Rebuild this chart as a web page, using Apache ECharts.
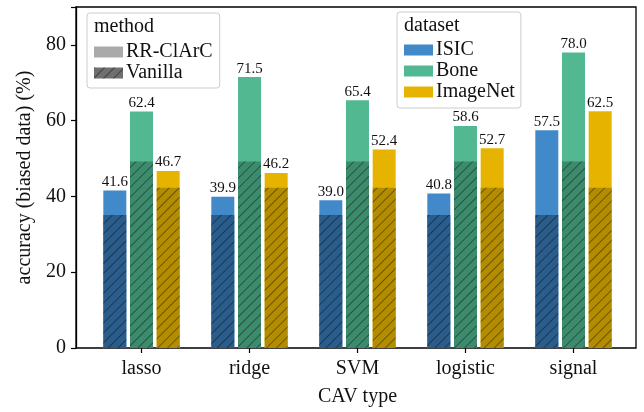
<!DOCTYPE html>
<html><head><meta charset="utf-8">
<script src="https://cdn.jsdelivr.net/npm/echarts@6/dist/echarts.min.js"></script>
<style>html,body{margin:0;padding:0;background:#fff}#c{width:644px;height:412px}</style>
</head><body><div id="c"></div>
<script>
const categories = ['lasso', 'ridge', 'SVM', 'logistic', 'signal'];
const datasets = ['ISIC', 'Bone', 'ImageNet'];
const methods = ['RR-ClArC', 'Vanilla'];
const rrIsic = [41.6, 39.9, 39.0, 40.8, 57.5];
const rrBone = [62.4, 71.5, 65.4, 58.6, 78.0];
const rrImageNet = [46.7, 46.2, 52.4, 52.7, 62.5];
const vanIsic = [35.1, 35.1, 35.1, 35.1, 35.1];
const vanBone = [49.2, 49.2, 49.2, 49.2, 49.2];
const vanImageNet = [42.3, 42.3, 42.3, 42.3, 42.3];
const yTicks = [0, 20, 40, 60, 80];

const FONT = "'Liberation Serif', 'DejaVu Serif', serif";
const light = ['#4289c9', '#52b891', '#e6b400'];
const dark = ['#2b5d8c', '#3d8b6d', '#b38c00'];
const hatch = {
  symbol: 'rect', symbolSize: 1,
  dashArrayX: [1, 0], dashArrayY: [1, 6],
  rotation: -Math.PI / 4,
  color: 'rgba(0,0,0,0.4)'
};
const rrData = [rrIsic, rrBone, rrImageNet];
const vanData = [vanIsic, vanBone, vanImageNet];

const series = [];
datasets.forEach((d, i) => {
  series.push({
    name: d, type: 'bar', xAxisIndex: 1, yAxisIndex: 1,
    data: rrData[i], barWidth: 23, barGap: '16%',
    itemStyle: { color: light[i] },
    label: {
      show: true, position: 'top', distance: 1,
      formatter: p => p.value.toFixed(1),
      fontFamily: FONT, fontSize: 15, color: '#111'
    },
    z: 2
  });
});
datasets.forEach((d, i) => {
  series.push({
    name: d + ' (Vanilla)', type: 'bar', xAxisIndex: 2, yAxisIndex: 1,
    data: vanData[i], barWidth: 23, barGap: '16%',
    itemStyle: { color: dark[i], decal: hatch },
    z: 3, silent: true
  });
});
series.push({ name: methods[0], type: 'bar', xAxisIndex: 3, yAxisIndex: 1, data: [], itemStyle: { color: '#aaaaaa' } });
series.push({ name: methods[1], type: 'bar', xAxisIndex: 3, yAxisIndex: 1, data: [], itemStyle: { color: '#6f6f6f', decal: hatch } });

const legendCommon = {
  orient: 'vertical', selectedMode: false,
  borderColor: '#cccccc', borderWidth: 1, borderRadius: 3,
  backgroundColor: '#ffffff',
  itemWidth: 29, itemHeight: 11, itemGap: 1,
  textStyle: { fontFamily: FONT, fontSize: 20, lineHeight: 18, color: '#111', padding: [0, 0, 0, -2] },
  z: 5
};

const chart = echarts.init(document.getElementById('c'), null, { renderer: 'canvas' });
chart.setOption({
  backgroundColor: '#ffffff',
  animation: false,
  textStyle: { fontFamily: FONT },
  graphic: [
    { type: 'text', left: 94, top: 17, z: 100, style: { text: 'method', fontFamily: 'Liberation Serif', fontSize: 20, fill: '#111' } },
    { type: 'text', left: 404, top: 16, z: 100, style: { text: 'dataset', fontFamily: 'Liberation Serif', fontSize: 20, fill: '#111' } }
  ],
  legend: [
    Object.assign({}, legendCommon, {
      left: 87, top: 13, padding: [29, 7, 5, 7],
      data: methods.map(m => ({ name: m, icon: 'rect' }))
    }),
    Object.assign({}, legendCommon, {
      left: 397, top: 12, padding: [28, 6, 6, 7],
      data: datasets.map(m => ({ name: m, icon: 'rect' }))
    })
  ],
  grid: [
    { left: 76, right: 8, top: 7, bottom: 64, show: true, borderColor: '#000', borderWidth: 1.3, backgroundColor: 'transparent', containLabel: false },
    { left: 87.5, right: 16.5, top: 7, bottom: 64, containLabel: false }
  ],
  xAxis: [
    { gridIndex: 0, type: 'value', min: 0, max: 1, show: false },
    {
      gridIndex: 1, type: 'category', data: categories,
      axisLine: { show: false },
      axisTick: { show: true, alignWithLabel: true, length: 5, lineStyle: { color: '#000', width: 1.2 } },
      axisLabel: { fontFamily: FONT, fontSize: 20, color: '#111', margin: 11 },
      splitLine: { show: false },
      name: 'CAV type', nameLocation: 'middle', nameGap: 39,
      nameTextStyle: { fontFamily: FONT, fontSize: 20, color: '#111' }
    },
    { gridIndex: 1, type: 'category', data: categories, show: false },
    { gridIndex: 1, type: 'category', data: categories, show: false }
  ],
  yAxis: [
    {
      gridIndex: 0, type: 'value', min: 0, max: 90, interval: 20,
      axisLine: { show: true, lineStyle: { color: '#000', width: 1.3 } },
      axisTick: { show: true, inside: false, length: 5, lineStyle: { color: '#000', width: 1.2 } },
      axisLabel: { fontFamily: FONT, fontSize: 20, color: '#111', margin: 10,
        formatter: v => (yTicks.indexOf(v) >= 0 ? String(v) : '') },
      splitLine: { show: false },
      name: 'accuracy (biased data) (%)', nameLocation: 'middle', nameGap: 40,
      nameTextStyle: { fontFamily: FONT, fontSize: 20, color: '#111' }
    },
    { gridIndex: 1, type: 'value', min: 0, max: 90, show: false }
  ],
  series: series
});
</script>
</body></html>
